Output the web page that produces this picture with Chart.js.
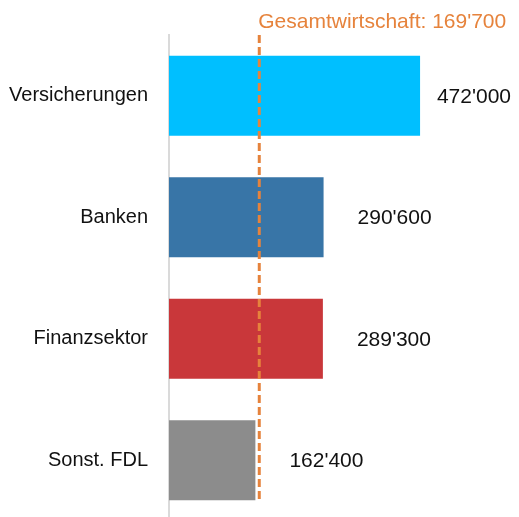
<!DOCTYPE html>
<html>
<head>
<meta charset="utf-8">
<script src="https://cdn.jsdelivr.net/npm/chart.js@4"></script>
<style>
  html, body { margin: 0; padding: 0; background: #fff; overflow: hidden; }
  canvas { display: block; }
</style>
</head>
<body>
<canvas id="lohnChart" width="519" height="521"></canvas>
<script>
// Daten
const categories = ['Versicherungen', 'Banken', 'Finanzsektor', 'Sonst. FDL'];
const values = [472000, 290600, 289300, 162400];
const barColors = ['#00BFFF', '#3875A7', '#C9373A', '#8C8C8C'];
const refLabel = 'Gesamtwirtschaft';
const refValue = 169700;

const FONT = '"Liberation Sans", Arial, sans-serif';
const ORANGE = '#E6833C';

// 472000 -> 472'000
function fmt(v) {
  return String(Math.round(v)).replace(/\B(?=(\d{3})+(?!\d))/g, "'");
}

// Referenzlinie + Wertebeschriftungen
const overlayPlugin = {
  id: 'overlay',
  afterDatasetsDraw(chart) {
    const ctx = chart.ctx;
    const area = chart.chartArea;
    const xScale = chart.scales.x;
    const bars = chart.getDatasetMeta(0).data;

    // Werte rechts neben den Balken
    ctx.save();
    ctx.font = '21px ' + FONT;
    ctx.fillStyle = '#111';
    ctx.textBaseline = 'middle';
    ctx.textAlign = 'left';
    bars.forEach((bar, i) => {
      const txt = fmt(values[i]);
      const w = ctx.measureText(txt).width;
      let x = bar.x + 34;
      if (x + w > chart.width - 8) x = chart.width - 8 - w;
      ctx.fillText(txt, x, bar.y + 1);
    });
    ctx.restore();

    // gestrichelte Linie Gesamtwirtschaft
    const lx = xScale.getPixelForValue(refValue);
    const last = bars[bars.length - 1];
    ctx.save();
    ctx.strokeStyle = ORANGE;
    ctx.lineWidth = 3;
    ctx.setLineDash([8, 4]);
    ctx.beginPath();
    ctx.moveTo(lx, area.top);
    ctx.lineTo(lx, last.y + last.height / 2);
    ctx.stroke();
    ctx.setLineDash([]);
    ctx.font = '21px ' + FONT;
    ctx.fillStyle = ORANGE;
    ctx.textBaseline = 'alphabetic';
    ctx.textAlign = 'left';
    ctx.fillText(refLabel + ': ' + fmt(refValue), lx - 1, 28);
    ctx.restore();
  }
};

const ctx = document.getElementById('lohnChart').getContext('2d');
new Chart(ctx, {
  type: 'bar',
  data: {
    labels: categories,
    datasets: [{
      data: values,
      backgroundColor: barColors,
      borderWidth: 0,
      barPercentage: 0.66,
      categoryPercentage: 1
    }]
  },
  options: {
    indexAxis: 'y',
    responsive: false,
    animation: false,
    layout: { padding: { top: 35, right: 0, bottom: 0, left: 0 } },
    plugins: {
      legend: { display: false },
      tooltip: { enabled: false }
    },
    scales: {
      x: {
        display: false,
        min: 0,
        max: 658000
      },
      y: {
        grid: { display: false, drawTicks: false },
        border: { display: true, color: '#DADADA', width: 2 },
        ticks: {
          color: '#111',
          padding: 21,
          font: { family: FONT, size: 20 }
        },
        afterFit(scale) {
          scale.width = 169;
          scale.paddingTop = 0;
          scale.paddingBottom = 0;
        }
      }
    }
  },
  plugins: [overlayPlugin]
});
</script>
</body>
</html>
